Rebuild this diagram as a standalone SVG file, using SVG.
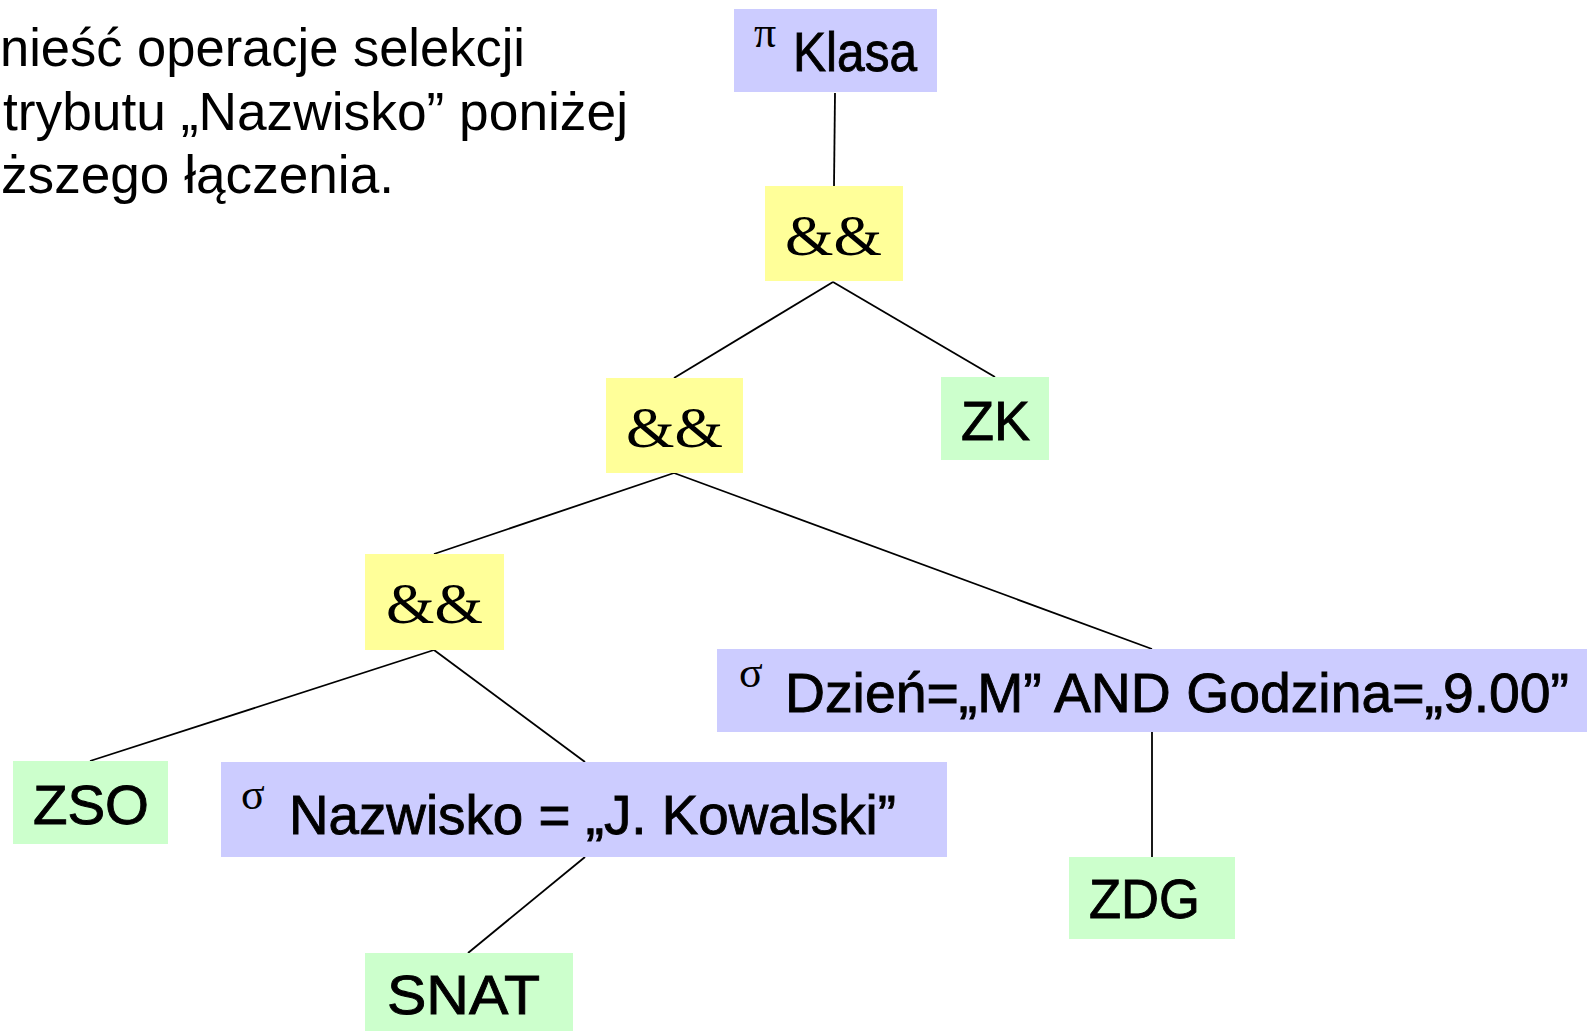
<svg xmlns="http://www.w3.org/2000/svg" width="1589" height="1031" viewBox="0 0 1589 1031">
  <style>
    .note { font-family: "Liberation Sans", Arial, sans-serif; font-size: 53px; fill: #000; }
    .lbl { font-family: "Liberation Sans", Arial, sans-serif; font-size: 56px; fill: #000; stroke: #000; stroke-width: 0.9; }
    .amp { font-family: "Liberation Serif", "Times New Roman", serif; font-size: 58px; fill: #000; }
    .sym { font-family: "Liberation Serif", "Times New Roman", serif; font-size: 44px; fill: #000; }
    .op { fill: #CCCCFF; }
    .join { fill: #FFFF99; }
    .rel { fill: #CCFFCC; }
    .edge { stroke: #000; stroke-width: 1.8; fill: none; }
  </style>

  <rect width="1589" height="1031" fill="#fff"/>

  <!-- instruction text -->
  <g id="note">
    <text class="note" x="0" y="66" textLength="525" lengthAdjust="spacingAndGlyphs">nieść operacje selekcji</text>
    <text class="note" x="3" y="130" textLength="625" lengthAdjust="spacingAndGlyphs">trybutu „Nazwisko” poniżej</text>
    <text class="note" x="1" y="193" textLength="393" lengthAdjust="spacingAndGlyphs">ższego łączenia.</text>
  </g>

  <!-- tree edges -->
  <g id="connectors">
    <line class="edge" x1="835" y1="93" x2="834" y2="186"/>
    <line class="edge" x1="833" y1="282" x2="674" y2="378"/>
    <line class="edge" x1="833" y1="282" x2="995" y2="377"/>
    <line class="edge" x1="674" y1="473" x2="434" y2="554"/>
    <line class="edge" x1="674" y1="473" x2="1152" y2="649"/>
    <line class="edge" x1="434" y1="650" x2="90" y2="761"/>
    <line class="edge" x1="434" y1="650" x2="585" y2="762"/>
    <line class="edge" x1="1152" y1="732" x2="1152" y2="857"/>
    <line class="edge" x1="585" y1="857" x2="468" y2="953"/>
  </g>

  <!-- projection -->
  <g id="proj-klasa">
    <rect class="op" x="734" y="9" width="203" height="83"/>
    <text class="sym" x="754" y="47">π</text>
    <text class="lbl" x="793" y="71" textLength="124" lengthAdjust="spacingAndGlyphs">Klasa</text>
  </g>

  <!-- joins -->
  <g id="join-1">
    <rect class="join" x="765" y="186" width="138" height="95"/>
    <text class="amp" x="785" y="255" textLength="97" lengthAdjust="spacingAndGlyphs">&amp;&amp;</text>
  </g>
  <g id="join-2">
    <rect class="join" x="606" y="378" width="137" height="95"/>
    <text class="amp" x="626" y="447" textLength="97" lengthAdjust="spacingAndGlyphs">&amp;&amp;</text>
  </g>
  <g id="join-3">
    <rect class="join" x="365" y="554" width="139" height="96"/>
    <text class="amp" x="386" y="623" textLength="97" lengthAdjust="spacingAndGlyphs">&amp;&amp;</text>
  </g>

  <!-- relations -->
  <g id="rel-zk">
    <rect class="rel" x="941" y="377" width="108" height="83"/>
    <text class="lbl" x="961" y="440" textLength="69" lengthAdjust="spacingAndGlyphs">ZK</text>
  </g>
  <g id="rel-zso">
    <rect class="rel" x="13" y="761" width="155" height="83"/>
    <text class="lbl" x="33" y="824" textLength="116" lengthAdjust="spacingAndGlyphs">ZSO</text>
  </g>
  <g id="rel-zdg">
    <rect class="rel" x="1069" y="857" width="166" height="82"/>
    <text class="lbl" x="1089" y="918" textLength="111" lengthAdjust="spacingAndGlyphs">ZDG</text>
  </g>
  <g id="rel-snat">
    <rect class="rel" x="365" y="953" width="208" height="78"/>
    <text class="lbl" x="387" y="1014" textLength="153" lengthAdjust="spacingAndGlyphs">SNAT</text>
  </g>

  <!-- selections -->
  <g id="sel-dzien">
    <rect class="op" x="717" y="649" width="870" height="83"/>
    <text class="sym" x="739" y="687">σ</text>
    <text class="lbl" x="785" y="712" textLength="784" lengthAdjust="spacingAndGlyphs">Dzień=„M” AND Godzina=„9.00”</text>
  </g>
  <g id="sel-nazwisko">
    <rect class="op" x="221" y="762" width="726" height="95"/>
    <text class="sym" x="241" y="809">σ</text>
    <text class="lbl" x="289" y="834" textLength="607" lengthAdjust="spacingAndGlyphs">Nazwisko = „J. Kowalski”</text>
  </g>
</svg>
